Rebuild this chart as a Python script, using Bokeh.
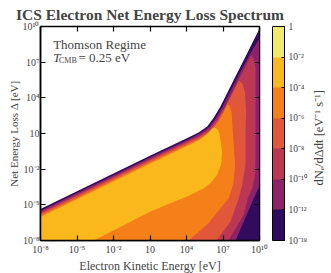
import numpy as np
from bokeh.plotting import figure
from bokeh.models import (LogAxis, FixedTicker, CustomJSTickFormatter, ColorBar,
                          LinearColorMapper, Label)
from bokeh.embed import file_html
from bokeh.resources import INLINE

# ---------------- data ----------------
tick_values = [1e-8, 1e-5, 1e-2, 1e1, 1e4, 1e7, 1e10]
tick_labels = ["10⁻⁸", "10⁻⁵", "10⁻²", "10", "10⁴", "10⁷", "10¹⁰"]

level_labels = ["10⁻¹⁸", "10⁻¹²", "10⁻¹⁰", "10⁻⁸", "10⁻⁶", "10⁻⁴", "10⁻²", "1"]
level_colors = ["#300b5e", "#8c2369", "#bc3754", "#e1573a", "#f5801a", "#fbb81d", "#f2ea6e"]
colorbar_title = "dNₑ/dΔdt [eV⁻¹ s⁻¹]"

# contour regions (log10 kinetic energy, log10 energy loss), region >= level
lvl_1e18_logE = [-8, 1.04, 4.33, 4.99, 5.70, 6.22, 6.79, 7.89, 8.99, 10.0, 10.0, -8]
lvl_1e18_logD = [-5.35, -0.85, 0.75, 1.08, 1.59, 2.30, 3.27, 5.52, 7.75, 9.83, -8, -8]

lvl_1e12_logE = [-8, 1.04, 4.33, 5.0, 5.8, 6.36, 6.95, 8.06, 9.17, 10.0, 10.0, 9.53, 8.03, -8]
lvl_1e12_logD = [-5.49, -0.99, 0.61, 0.95, 1.48, 2.25, 3.22, 5.45, 7.6, 9.0, -3.4, -4.44, -8, -8]

lvl_1e10_logE = [-8, 1.04, 4.33, 5.02, 5.88, 6.5, 7.12, 8.22, 9.3, 9.55, 9.67, 9.67, 9.62, 9.40, 9.04, 8.71, 7.45, -8]
lvl_1e10_logD = [-5.62, -1.12, 0.48, 0.82, 1.38, 2.2, 3.17, 5.38, 7.55, 7.25, 6.5, -1.08, -2.6, -3.60, -4.44, -5.84, -8, -8]

lvl_1e8_logE = [-8, 1.04, 4.33, 5.05, 5.95, 6.6, 7.24, 8.3, 8.6, 8.8, 8.9, 8.85, 8.85, 8.6, 8.30, 7.62, 6.47, -8]
lvl_1e8_logD = [-5.76, -1.26, 0.34, 0.68, 1.28, 2.15, 3.27, 5.45, 5.2, 4.5, 2.8, 1.2, -1.63, -3.2, -4.44, -6.40, -8, -8]

lvl_1e6_logE = [-8, 1.04, 4.33, 5.08, 5.95, 6.6, 7.1, 7.35, 7.58, 7.72, 7.8, 8.0, 7.85, 7.48, 6.79, 5.70, 4.16, -8]
lvl_1e6_logD = [-5.89, -1.39, 0.21, 0.55, 1.15, 1.95, 2.9, 3.45, 3.3, 2.68, 1.17, -1.63, -3.2, -4.44, -5.28, -6.68, -8, -8]

lvl_1e4_logE = [-8, 1.04, 4.33, 5.1, 5.7, 6.1, 6.3, 6.55, 6.71, 6.93, 6.85, 6.52, 6.0, 5.42, 4.06, 2.68, 1.04, -3.62, -8]
lvl_1e4_logD = [-6.02, -1.52, 0.08, 0.47, 0.95, 1.4, 1.52, 1.35, 1.0, -0.51, -1.6, -2.47, -3.15, -3.60, -4.30, -4.86, -5.56, -8, -8]

regions_logE = [lvl_1e18_logE, lvl_1e12_logE, lvl_1e10_logE, lvl_1e8_logE, lvl_1e6_logE, lvl_1e4_logE]
regions_logD = [lvl_1e18_logD, lvl_1e12_logD, lvl_1e10_logD, lvl_1e8_logD, lvl_1e6_logD, lvl_1e4_logD]

FONT = "Liberation Serif"

p = figure(frame_width=219, frame_height=214, x_axis_type="log", y_axis_type="log",
           x_range=(1e-8, 1e10), y_range=(1e-8, 1e10),
           output_backend="svg", toolbar_location=None,
           min_border_left=40, min_border_right=72, min_border_top=25, min_border_bottom=34)
p.grid.visible = False
p.outline_line_color = "black"
p.outline_line_width = 1.5
p.background_fill_color = "white"

p.patches(xs=[list(10.0 ** np.array(e)) for e in regions_logE],
          ys=[list(10.0 ** np.array(d)) for d in regions_logD],
          fill_color=level_colors[:6], line_color=None)

# title
p.title.text = "ICS Electron Net Energy Loss Spectrum"
p.title.align = "center"
p.title.text_font = FONT
p.title.text_font_size = "15.5px"
p.title.text_font_style = "bold"
p.title.standoff = 7

fmt_code = """
const lt = Math.log10(tick);
for (let i = 0; i < vals.length; i++) {
  if (Math.abs(Math.log10(vals[i]) - lt) < 1e-6) return labels[i];
}
return "";
"""
for ax in (p.xaxis[0], p.yaxis[0]):
    ax.ticker = FixedTicker(ticks=tick_values)
    ax.formatter = CustomJSTickFormatter(args=dict(vals=tick_values, labels=tick_labels), code=fmt_code)
    ax.major_tick_in = 5
    ax.major_tick_out = 0
    ax.minor_tick_line_color = None
    ax.axis_line_width = 1.5
    ax.major_tick_line_width = 1.2
    ax.major_label_text_font = FONT
    ax.major_label_text_font_size = "10px"
    ax.axis_label_text_font = FONT
    ax.axis_label_text_font_style = "normal"

p.xaxis.axis_label = "Electron Kinetic Energy [eV]"
p.xaxis.axis_label_text_font_size = "12px"
p.xaxis.major_label_standoff = 3
p.xaxis.axis_label_standoff = 1
p.yaxis.axis_label = "Net Energy Loss Δ [eV]"
p.yaxis.axis_label_text_font_size = "11px"
p.yaxis.major_label_standoff = 1
p.yaxis.axis_label_standoff = 0

for loc in ("above", "right"):
    ax = LogAxis(ticker=FixedTicker(ticks=tick_values),
                 formatter=CustomJSTickFormatter(code="return ''"),
                 major_tick_in=5, major_tick_out=0, major_tick_line_width=1.2,
                 minor_tick_line_color=None, axis_line_color=None,
                 major_label_text_font_size="0px", major_label_standoff=0)
    p.add_layout(ax, loc)

mapper = LinearColorMapper(palette=level_colors, low=0, high=7)
cb = ColorBar(color_mapper=mapper, ticker=FixedTicker(ticks=list(range(8))),
              major_label_overrides={i: lab for i, lab in enumerate(level_labels)},
              width=12, height=214, location=(13, 0), padding=0, margin=0,
              label_standoff=4, major_tick_in=3, major_tick_out=0,
              major_tick_line_color="black", bar_line_color="black", bar_line_width=1,
              border_line_color=None, background_fill_alpha=0,
              major_label_text_font=FONT, major_label_text_font_size="9.5px")
p.add_layout(cb, "right")

# colour-bar label: a single rotated tick label of an otherwise empty outer axis,
# whose tick sets where the bottom-to-top text starts
cb_axis = LogAxis(ticker=FixedTicker(ticks=[10 ** -3.37]),
                  formatter=CustomJSTickFormatter(args=dict(label=colorbar_title), code="return label"),
                  major_tick_in=0, major_tick_out=0, minor_tick_line_color=None,
                  axis_line_color=None, major_label_orientation=float(np.pi / 2),
                  major_label_text_font=FONT, major_label_text_font_size="12.5px",
                  major_label_standoff=9)
p.add_layout(cb_axis, "right")

# annotation inside the frame
txt = dict(text_font=FONT, text_font_size="13px", text_baseline="alphabetic")
p.add_layout(Label(x=10 ** -6.96, y=10 ** 8.49, text="Thomson Regime", **txt))
p.add_layout(Label(x=10 ** -6.96, y=10 ** 7.39, text="T", text_font_style="italic", **txt))
p.add_layout(Label(x=10 ** -6.48, y=10 ** 7.12, text="CMB", text_font=FONT,
                   text_font_size="8px", text_baseline="alphabetic"))
p.add_layout(Label(x=10 ** -4.88, y=10 ** 7.39, text="= 0.25 eV", **txt))

open("out.html", "w").write(file_html(p, INLINE))
